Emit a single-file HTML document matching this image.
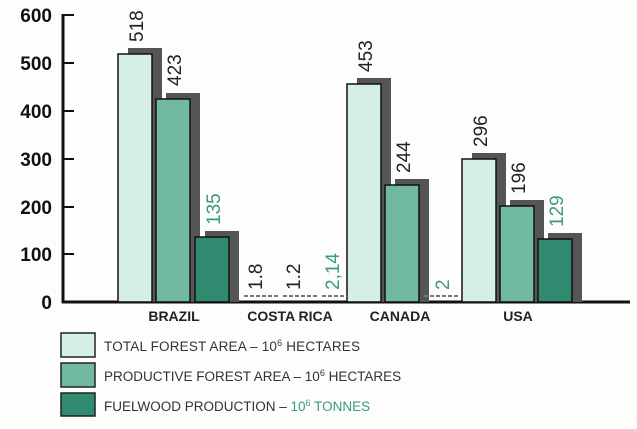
<!DOCTYPE html><html><head><style>body{margin:0;background:#fff}</style></head><body>
<svg width="637" height="424" xmlns="http://www.w3.org/2000/svg" font-family="Liberation Sans, sans-serif">
<rect width="637" height="424" fill="#fdfdfb"/>
<g stroke="#111" stroke-width="3"><line x1="63" y1="14" x2="63" y2="303"/><line x1="62" y1="302" x2="630" y2="302"/></g>
<g stroke="#111" stroke-width="2">
<line x1="63" y1="15" x2="74" y2="15"/><line x1="63" y1="63" x2="74" y2="63"/><line x1="63" y1="111" x2="74" y2="111"/><line x1="63" y1="159" x2="74" y2="159"/><line x1="63" y1="207" x2="74" y2="207"/><line x1="63" y1="254" x2="74" y2="254"/></g>
<g font-size="19" font-weight="bold" fill="#111" text-anchor="end">
<text x="52" y="22">600</text><text x="52" y="70">500</text><text x="52" y="118">400</text><text x="52" y="166">300</text><text x="52" y="214">200</text><text x="52" y="261">100</text><text x="52" y="309">0</text></g>
<g fill="#555">
<rect x="128" y="48" width="34" height="254"/><rect x="166" y="93" width="34" height="209"/><rect x="205" y="231" width="34" height="71"/>
<rect x="357" y="78" width="34" height="224"/><rect x="395" y="179" width="34" height="123"/>
<rect x="472" y="153" width="34" height="149"/><rect x="510" y="200" width="34" height="102"/><rect x="548" y="233" width="34" height="69"/></g>
<g stroke="#111" stroke-width="1.5">
<rect x="118" y="54" width="34" height="248" fill="#d6efe6"/><rect x="156" y="99" width="34" height="203" fill="#72b9a4"/><rect x="195" y="237" width="34" height="65" fill="#2f8a70"/>
<rect x="347" y="84" width="34" height="218" fill="#d6efe6"/><rect x="385" y="185" width="34" height="117" fill="#72b9a4"/>
<rect x="462" y="159" width="34" height="143" fill="#d6efe6"/><rect x="500" y="206" width="34" height="96" fill="#72b9a4"/><rect x="538" y="239" width="34" height="63" fill="#2f8a70"/></g>
<g stroke="#777" stroke-width="2" stroke-dasharray="4,2"><line x1="244" y1="296" x2="280" y2="296"/><line x1="283" y1="296" x2="318" y2="296"/><line x1="322" y1="296" x2="347" y2="296"/><line x1="424" y1="296" x2="458" y2="296"/></g>
<g font-size="19" fill="#222">
<text transform="translate(143,42) rotate(-90)">518</text>
<text transform="translate(181,86) rotate(-90)">423</text>
<text transform="translate(220,225) rotate(-90)" fill="#3a9a80">135</text>
<text transform="translate(262,290) rotate(-90)">1.8</text>
<text transform="translate(300,290) rotate(-90)">1.2</text>
<text transform="translate(339,290) rotate(-90)" fill="#3a9a80">2,14</text>
<text transform="translate(372,72) rotate(-90)">453</text>
<text transform="translate(410,173) rotate(-90)">244</text>
<text transform="translate(449,290) rotate(-90)" fill="#3a9a80">2</text>
<text transform="translate(487,147) rotate(-90)">296</text>
<text transform="translate(525,194) rotate(-90)">196</text>
<text transform="translate(563,227) rotate(-90)" fill="#3a9a80">129</text>
</g>
<g font-size="14" font-weight="bold" fill="#222" text-anchor="middle">
<text x="174" y="321">BRAZIL</text><text x="290" y="321">COSTA RICA</text><text x="400" y="321">CANADA</text><text x="518" y="321">USA</text></g>
<g stroke="#222" stroke-width="1.5">
<rect x="61" y="333" width="34" height="24" fill="#d6efe6"/><rect x="61" y="363" width="34" height="24" fill="#72b9a4"/><rect x="61" y="393" width="34" height="23" fill="#2f8a70"/></g>
<g font-size="13.5" fill="#333">
<text x="104" y="351" textLength="256">TOTAL FOREST AREA – 10<tspan dy="-5" font-size="9">6</tspan><tspan dy="5"> HECTARES</tspan></text>
<text x="104" y="381">PRODUCTIVE FOREST AREA  – 10<tspan dy="-5" font-size="9">6</tspan><tspan dy="5"> HECTARES</tspan></text>
<text x="104" y="411">FUELWOOD PRODUCTION  – <tspan fill="#3a9a80">10</tspan><tspan dy="-5" font-size="9" fill="#3a9a80">6</tspan><tspan dy="5" fill="#3a9a80"> TONNES</tspan></text>
</g>
</svg></body></html>
